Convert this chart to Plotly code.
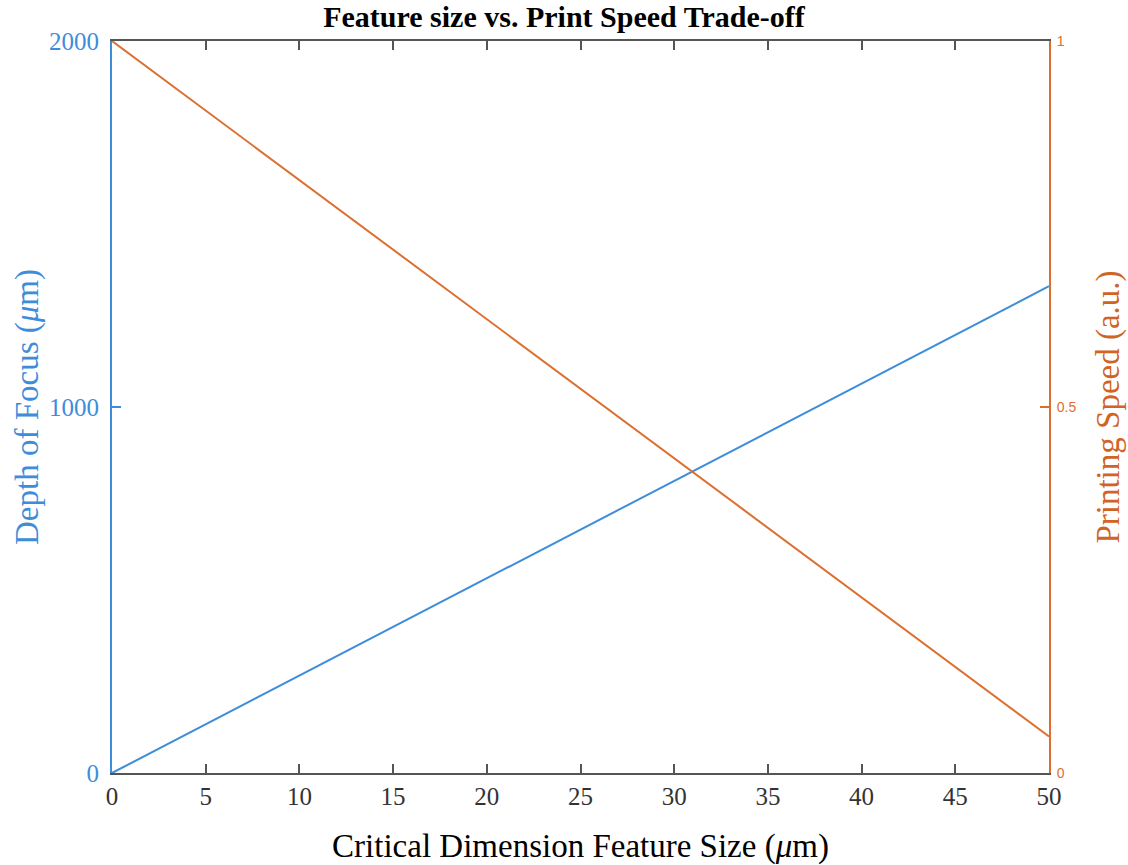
import plotly.graph_objects as go

feature_size = [0, 50]
depth_of_focus = [0, 1330]
print_speed = [1.0, 0.05]

x_ticks = [0, 5, 10, 15, 20, 25, 30, 35, 40, 45, 50]
y_ticks = [0, 1000, 2000]
y2_ticks = [0, 0.5, 1]
y2_ticklabels = ["0", "0.5", "1"]

BLUE = "#3d8ddb"
ORANGE = "#dc6f30"
ORANGE_TXT = "#cf6424"
SERIF = "Liberation Serif, Times New Roman, serif"

fig = go.Figure()
fig.add_trace(go.Scatter(x=feature_size, y=depth_of_focus, mode="lines",
                         line=dict(color=BLUE, width=2), yaxis="y", showlegend=False))
fig.add_trace(go.Scatter(x=feature_size, y=print_speed, mode="lines",
                         line=dict(color=ORANGE, width=2), yaxis="y2", showlegend=False))

fig.update_layout(
    width=1128, height=865,
    margin=dict(l=112, r=79, t=41, b=92),
    paper_bgcolor="white", plot_bgcolor="white",
    title=dict(text="<b>Feature size vs. Print Speed Trade-off</b>", x=0.5, xanchor="center",
               y=1 - 16 / 865, yanchor="middle",
               font=dict(family=SERIF, size=30, color="black")),
    xaxis=dict(range=[0, 50], tickvals=x_ticks, showgrid=False, zeroline=False,
               automargin=False,
               showline=True, linecolor="#555555", linewidth=2, mirror="ticks",
               ticks="inside", ticklen=9, tickwidth=1.5, tickcolor="#555555",
               tickfont=dict(family=SERIF, size=25, color="#333333"),
               title=dict(text="Critical Dimension Feature Size (<i>μ</i>m)",
                          font=dict(family=SERIF, size=33, color="black"), standoff=26)),
    yaxis=dict(range=[0, 2000], tickvals=y_ticks, showgrid=False, zeroline=False,
               automargin=False,
               showline=True, linecolor=BLUE, linewidth=2,
               ticks="inside", ticklen=9, tickwidth=1.5, tickcolor=BLUE,
               ticklabelstandoff=6,
               tickfont=dict(family=SERIF, size=25, color=BLUE),
               title=dict(text="Depth of Focus (<i>μ</i>m)",
                          font=dict(family=SERIF, size=33, color=BLUE), standoff=0)),
    yaxis2=dict(range=[0, 1], tickvals=y2_ticks, ticktext=y2_ticklabels, overlaying="y",
                side="right", showgrid=False, zeroline=False,
                automargin=False,
                showline=True, linecolor=ORANGE, linewidth=2,
                ticks="inside", ticklen=9, tickwidth=1.5, tickcolor=ORANGE,
                ticklabelstandoff=3,
                tickfont=dict(family="Liberation Sans, Arial, sans-serif", size=14, color=ORANGE),
                title=dict(text="Printing Speed (a.u.)",
                           font=dict(family=SERIF, size=33, color=ORANGE_TXT), standoff=20)),
)

fig.write_html("out.html")
